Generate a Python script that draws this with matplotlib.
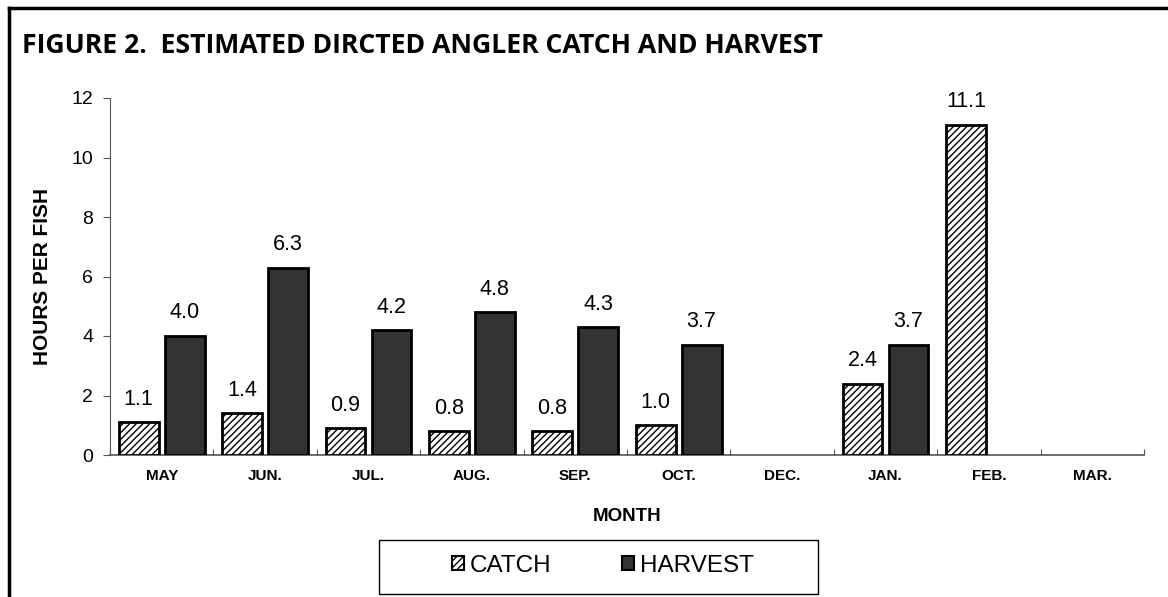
import numpy as np
import matplotlib.pyplot as plt
import matplotlib as mpl
from matplotlib.patches import Patch, Rectangle

months = ["MAY", "JUN.", "JUL.", "AUG.", "SEP.", "OCT.", "DEC.", "JAN.", "FEB.", "MAR."]
catch = [1.1, 1.4, 0.9, 0.8, 0.8, 1.0, None, 2.4, 11.1, None]
harvest = [4.0, 6.3, 4.2, 4.8, 4.3, 3.7, None, 3.7, None, None]

plt.rcParams['font.family'] = ['Liberation Sans', 'DejaVu Sans']
mpl.rcParams['hatch.color'] = '#a6a6a6'
mpl.rcParams['hatch.linewidth'] = 1.0

fig = plt.figure(figsize=(11.68, 5.97), dpi=100)
ax = fig.add_axes([110 / 1168, 1 - 455 / 597, 1034 / 1168, 357 / 597])

x = np.arange(len(months))
w = 0.385
off = 0.222

for i in range(len(months)):
    if catch[i] is not None:
        ax.bar(x[i] - off, catch[i], w, color='white', edgecolor='black',
               linewidth=2, hatch='/////', zorder=3)
        ax.annotate(f"{catch[i]:.1f}", (x[i] - off, catch[i]), xytext=(0, 9),
                    textcoords='offset points', ha='center', va='bottom', fontsize=15.5)
    if harvest[i] is not None:
        ax.bar(x[i] + off, harvest[i], w, color='#333333', edgecolor='black',
               linewidth=2, zorder=3)
        ax.annotate(f"{harvest[i]:.1f}", (x[i] + off, harvest[i]), xytext=(0, 9),
                    textcoords='offset points', ha='center', va='bottom', fontsize=15.5)

ax.set_xlim(-0.5, len(months) - 0.5)
ax.set_ylim(0, 12)
ax.set_yticks(range(0, 13, 2))
ax.tick_params(axis='y', labelsize=14, direction='out', length=5, width=0.8, colors='#555555',
               labelcolor='black', pad=7)
ax.set_xticks(x)
ax.set_xticklabels(months, fontsize=11, fontweight='bold')
ax.tick_params(axis='x', length=0, pad=10)
ax.set_xticks(np.arange(-0.5, len(months), 1), minor=True)
ax.tick_params(axis='x', which='minor', direction='in', length=4, width=0.8, colors='#555555')

for s in ['top', 'right']:
    ax.spines[s].set_visible(False)
ax.spines['left'].set_color('#555555')
ax.spines['left'].set_linewidth(0.8)
ax.spines['bottom'].set_color('#555555')
ax.spines['bottom'].set_linewidth(1.2)

ax.set_ylabel("HOURS PER FISH", fontsize=15, fontweight='bold', labelpad=14)
ax.set_xlabel("MONTH", fontsize=13.5, fontweight='bold', labelpad=18)

# legend box
fig.add_artist(Rectangle((379 / 1168, 1 - 594 / 597), 439 / 1168, 54 / 597,
                         transform=fig.transFigure, facecolor='white', edgecolor='black',
                         linewidth=1.0))
handles = [Patch(facecolor='white', edgecolor='black', hatch='/////', linewidth=1.5, label='CATCH'),
           Patch(facecolor='#333333', edgecolor='black', linewidth=1.5, label='HARVEST')]
leg = fig.legend(handles=handles, loc='center', bbox_to_anchor=(603 / 1168, 1 - 566 / 597),
                 ncol=2, fontsize=17.5, frameon=False,
                 handlelength=0.5, handleheight=0.5, handletextpad=0.25, columnspacing=2.9)

fig.text(22 / 1168, 1 - 46 / 597, "FIGURE 2.  ESTIMATED DIRCTED ANGLER CATCH AND HARVEST",
         fontsize=19.2, fontweight='bold', family=['Open Sans', 'DejaVu Sans'],
         ha='left', va='center')

# border of the figure (top and left only)
fig.add_artist(plt.Line2D([9 / 1168, 1], [1 - 8 / 597, 1 - 8 / 597], color='black', lw=2.5,
                          transform=fig.transFigure))
fig.add_artist(plt.Line2D([9 / 1168, 9 / 1168], [0, 1 - 8 / 597], color='black', lw=2.5,
                          transform=fig.transFigure))

fig.savefig("out.png", dpi=100)
